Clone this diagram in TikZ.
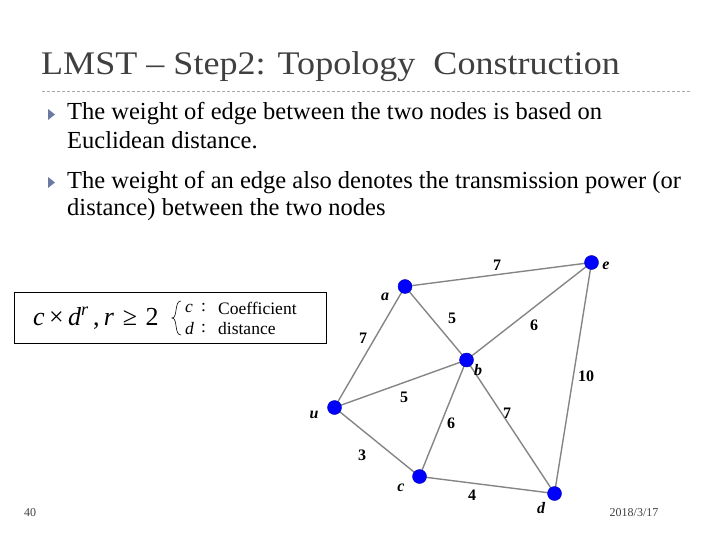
\documentclass[tikz,border=0pt]{standalone}
\usepackage{fontspec}
\setmainfont{Liberation Serif}
\definecolor{titlegray}{HTML}{404040}
\definecolor{edgegray}{HTML}{858585}
\definecolor{bulletblue}{HTML}{6B7AA1}
\begin{document}
\begin{tikzpicture}[x=1pt,y=-1pt,
  vert/.style={circle,fill=blue,draw=blue!70!black,minimum size=14pt,inner sep=0pt},
  edge/.style={draw=edgegray,line width=1.4pt},
  wlab/.style={font=\fontsize{16}{16}\selectfont\bfseries},
  vlab/.style={font=\fontsize{16}{16}\selectfont\bfseries\itshape},
  bodytext/.style={anchor=west,font=\fontsize{24.5}{26}\selectfont,inner sep=0pt},
  ftext/.style={anchor=west,inner sep=0pt,font=\fontsize{17.5}{17.5}\selectfont},
  bul/.style={fill=bulletblue}
]
\useasboundingbox (0,0) rectangle (720,540);
% title
\node[anchor=west,inner sep=0pt,text=titlegray,font=\fontsize{33}{33}\selectfont] (title) at (41,67) {\scalebox{1.093}[1]{LMST -- Step2: Topology\ \ Construction}};
\draw[edgegray!70,line width=0.8pt,dash pattern=on 3pt off 2pt] (42,91) -- (690,91);
% bullets
\fill[bul] (48,109) -- (55,114.5) -- (48,120) -- cycle;
\fill[bul] (48,177) -- (55,182.5) -- (48,188) -- cycle;
\node[bodytext] (t1) at (67,114) {The weight of edge between the two nodes is based on};
\node[bodytext] (t2) at (67,140) {Euclidean distance.};
\node[bodytext] (t3) at (67,183) {The weight of an edge also denotes the transmission power (or};
\node[bodytext] (t4) at (67,210) {distance) between the two nodes};
% formula box
\draw[line width=0.9pt] (14,292) rectangle (326,343);
\node[anchor=west,inner sep=0pt,font=\fontsize{26}{26}\selectfont] (f) at (33,318) {\textit{c}\,×\,\textit{d}\textsuperscript{\textit{r}}\,,\,\textit{r}\,\,≥\,\,2};
\draw[line width=0.6pt] (181,301) .. controls (174,301) and (178,318) .. (172,318) .. controls (178,318) and (174,335) .. (181,335);
\node[ftext] (fc) at (185,308) {\textit{c}};
\node[ftext] (fk1) at (201,308) {:};
\node[ftext] (f1) at (218,308) {Coefficient};
\node[ftext] (fd) at (185,329) {\textit{d}};
\node[ftext] (fk2) at (201,329) {:};
\node[ftext] (f2) at (218,329) {distance};
% vertices
\coordinate (pa) at (405,286.5);
\coordinate (pe) at (591.5,262.5);
\coordinate (pb) at (466.5,360);
\coordinate (pu) at (334.5,407.5);
\coordinate (pc) at (419.5,476.5);
\coordinate (pd) at (554.5,493.5);
\draw[edge] (pa) -- (pe);
\draw[edge] (pa) -- (pb);
\draw[edge] (pa) -- (pu);
\draw[edge] (pb) -- (pe);
\draw[edge] (pb) -- (pu);
\draw[edge] (pb) -- (pc);
\draw[edge] (pb) -- (pd);
\draw[edge] (pe) -- (pd);
\draw[edge] (pu) -- (pc);
\draw[edge] (pc) -- (pd);
\node[vert] (a) at (pa) {};
\node[vert] (e) at (pe) {};
\node[vert] (b) at (pb) {};
\node[vert] (u) at (pu) {};
\node[vert] (c) at (pc) {};
\node[vert] (d) at (pd) {};
% vertex labels
\node[vlab] (la) at (385,297) {a};
\node[vlab] (le) at (606,266) {e};
\node[vlab] (lb) at (478,370) {b};
\node[vlab] (lu) at (314,415) {u};
\node[vlab] (lc) at (401,488) {c};
\node[vlab] (ld) at (541,508) {d};
% weights
\node[wlab] (w1) at (497,265) {7};
\node[wlab] (w2) at (452,318) {5};
\node[wlab] (w3) at (534,325) {6};
\node[wlab] (w4) at (363,338) {7};
\node[wlab] (w5) at (586,376) {10};
\node[wlab] (w6) at (404,397) {5};
\node[wlab] (w7) at (451,423) {6};
\node[wlab] (w8) at (507,413) {7};
\node[wlab] (w9) at (362,455) {3};
\node[wlab] (w10) at (472,495) {4};
% footer
\node[text=titlegray,font=\fontsize{12}{12}\selectfont] (pg) at (30,513) {40};
\node[text=titlegray,font=\fontsize{12}{12}\selectfont] (dt) at (634,513) {2018/3/17};
\end{tikzpicture}
\end{document}
